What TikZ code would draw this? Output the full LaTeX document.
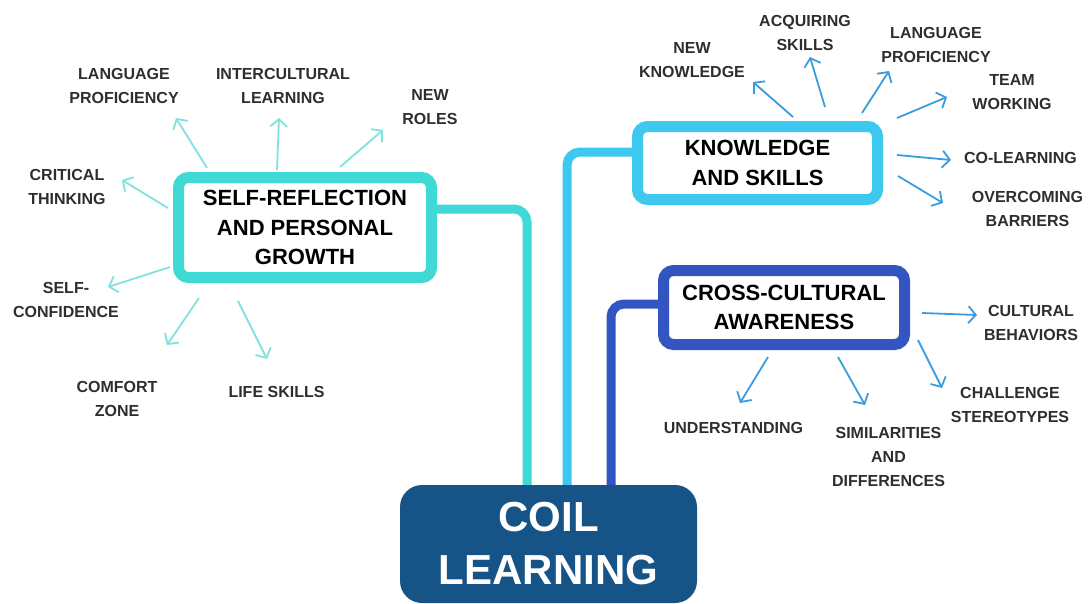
\documentclass[tikz,border=0pt]{standalone}
\usepackage{fontspec}
\setmainfont{Liberation Sans}
\usepackage{tikz}
\usetikzlibrary{arrows.meta,positioning}

\definecolor{selfteal}{HTML}{3FDAD6}
\definecolor{selfarrow}{HTML}{80E2DF}
\definecolor{knowsky}{HTML}{3CC8EF}
\definecolor{knowarrow}{HTML}{3A9CE0}
\definecolor{crossblue}{HTML}{3355C2}
\definecolor{coilblue}{HTML}{165487}
\definecolor{labelgray}{HTML}{2E2E2E}

\tikzset{
  topic/.style={
    draw,
    fill = white,
    line width = 11pt,
    rounded corners = 10pt,
    inner sep = 0pt,
    align = center,
    text = black,
    font = \fontsize{22}{29.5}\selectfont\bfseries
  },
  hub/.style={
    fill = coilblue,
    rounded corners = 22pt,
    inner sep = 0pt,
    minimum width = 297pt,
    minimum height = 118pt,
    align = center,
    text = white,
    font = \fontsize{42}{53}\selectfont\bfseries
  },
  leaf/.style={
    inner sep = 0pt,
    align = center,
    text = labelgray,
    font = \fontsize{16}{24}\selectfont\bfseries
  },
  branch/.style={
    line width = 9pt,
    rounded corners = 13pt
  },
  spoke_self/.style={
    draw = selfarrow,
    line width = 1.8pt,
    -{Straight Barb[length=7.5pt,width=17pt]}
  },
  spoke_know/.style={
    draw = knowarrow,
    line width = 1.8pt,
    -{Straight Barb[length=7.5pt,width=17pt]}
  }
}

\begin{document}
\begin{tikzpicture}[x=1pt, y=-1pt]
    \useasboundingbox (0,0) rectangle (1088,603);

    % the three topics and the centre
    \node[topic, draw=selfteal, minimum width=253pt, minimum height=100pt] (self) at (305,227.5) {SELF-REFLECTION\\AND PERSONAL\\GROWTH};
    \node[topic, draw=knowsky, minimum width=240pt, minimum height=73pt] (know) at (757.5,163) {KNOWLEDGE\\AND SKILLS};
    \node[topic, draw=crossblue, minimum width=241pt, minimum height=74pt] (cross) at (784,307.5) {CROSS-CULTURAL\\AWARENESS};
    \node[hub] (coil) at (548.5,544) {COIL\\LEARNING};

    \draw[branch, selfteal] ([shift={(0,-18.5)}]self.east) -| ([shift={(-21.5,0)}]coil.north);
    \draw[branch, knowsky] ([shift={(0,-11)}]know.west) -| ([shift={(18.5,0)}]coil.north);
    \draw[branch, crossblue] ([shift={(0,-3.5)}]cross.west) -| ([shift={(62.5,0)}]coil.north);

    % self-reflection leaves
    \node[leaf] (lang_a) at (124,85.5) {LANGUAGE\\PROFICIENCY};
    \node[leaf] (intercult) at (283,86) {INTERCULTURAL\\LEARNING};
    \node[leaf] (roles) at (430,107) {NEW\\ROLES};
    \node[leaf] (critical) at (67,187) {CRITICAL\\THINKING};
    \node[leaf] (confidence) at (66,299.5) {SELF-\\CONFIDENCE};
    \node[leaf] (comfort) at (117,398.5) {COMFORT\\ZONE};
    \node[leaf] (lifeskills) at (276.5,392) {LIFE SKILLS};

    \draw[spoke_self] ([shift={(-98,-59.5)}]self.center) -- ([shift={(52,32.5)}]lang_a.center);
    \draw[spoke_self] ([shift={(-28,-57.5)}]self.center) -- ([shift={(-4,32)}]intercult.center);
    \draw[spoke_self] ([shift={(35,-60.5)}]self.center) -- ([shift={(-47,23)}]roles.center);
    \draw[spoke_self] ([shift={(-137,-19.5)}]self.center) -- ([shift={(55,-7)}]critical.center);
    \draw[spoke_self] ([shift={(-135,39.5)}]self.center) -- ([shift={(42,-12.5)}]confidence.center);
    \draw[spoke_self] ([shift={(-106,70.5)}]self.center) -- ([shift={(50,-53.5)}]comfort.center);
    \draw[spoke_self] ([shift={(-67,73.5)}]self.center) -- ([shift={(-9.5,-33)}]lifeskills.center);

    % knowledge leaves
    \node[leaf] (newknow) at (692,60.5) {NEW\\KNOWLEDGE};
    \node[leaf] (acquiring) at (805,32.5) {ACQUIRING\\SKILLS};
    \node[leaf] (lang_b) at (936,44.5) {LANGUAGE\\PROFICIENCY};
    \node[leaf] (team) at (1012,92.5) {TEAM\\WORKING};
    \node[leaf] (colearn) at (1020.5,157.5) {CO-LEARNING};
    \node[leaf] (barriers) at (1027.5,208.5) {OVERCOMING\\BARRIERS};

    \draw[spoke_know] ([shift={(35.5,-46)}]know.center) -- ([shift={(61,21.5)}]newknow.center);
    \draw[spoke_know] ([shift={(67.5,-56)}]know.center) -- ([shift={(5,24.5)}]acquiring.center);
    \draw[spoke_know] ([shift={(104.5,-50)}]know.center) -- ([shift={(-47,26.5)}]lang_b.center);
    \draw[spoke_know] ([shift={(139.5,-45)}]know.center) -- ([shift={(-65,4.5)}]team.center);
    \draw[spoke_know] ([shift={(139.5,-8)}]know.center) -- ([shift={(-69.5,2.5)}]colearn.center);
    \draw[spoke_know] ([shift={(140.5,13)}]know.center) -- ([shift={(-84.5,-5.5)}]barriers.center);

    % cross-cultural leaves
    \node[leaf] (behaviors) at (1031,323) {CULTURAL\\BEHAVIORS};
    \node[leaf] (stereotypes) at (1010,404.5) {CHALLENGE\\STEREOTYPES};
    \node[leaf] (understanding) at (733.5,427.5) {UNDERSTANDING};
    \node[leaf] (similar) at (888.5,457) {SIMILARITIES\\AND\\DIFFERENCES};

    \draw[spoke_know] ([shift={(138,5.5)}]cross.center) -- ([shift={(-54,-8)}]behaviors.center);
    \draw[spoke_know] ([shift={(134,32.5)}]cross.center) -- ([shift={(-68,-16.5)}]stereotypes.center);
    \draw[spoke_know] ([shift={(54,49.5)}]cross.center) -- ([shift={(-23.5,-52)}]similar.center);
    \draw[spoke_know] ([shift={(-16,49.5)}]cross.center) -- ([shift={(6.5,-24.5)}]understanding.center);
\end{tikzpicture}
\end{document}
